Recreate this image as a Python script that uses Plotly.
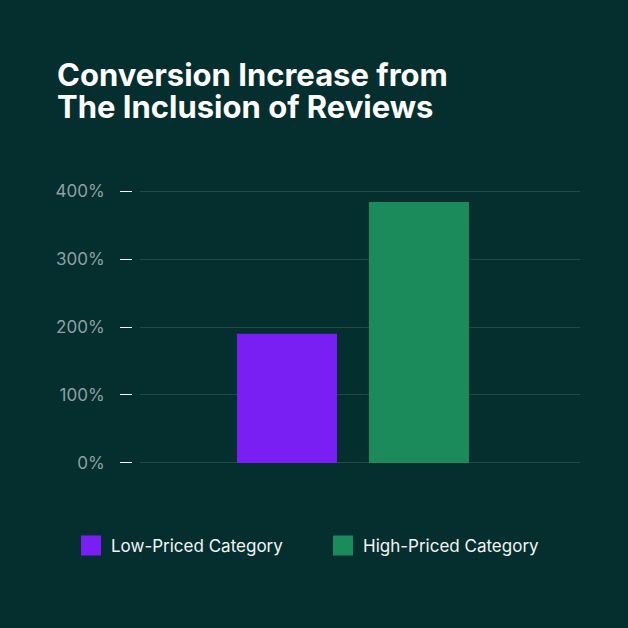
import plotly.graph_objects as go

# ---- data ----
series_names = ["Low-Priced Category", "High-Priced Category"]
series_values = [190, 384]          # percent conversion increase
series_colors = ["#7a1ff3", "#1b8b5c"]
category = [""]                      # single group
y_ticks = [0, 100, 200, 300, 400]
y_tick_labels = ["0%", "100%", "200%", "300%", "400%"]
title_lines = ["Conversion Increase from", "The Inclusion of Reviews"]

BG = "#052e2f"
GRID = "#1f4a48"
TICKLBL = "#8fa1a1"
FONT = "Inter"

fig = go.Figure()
for name, val, col in zip(series_names, series_values, series_colors):
    fig.add_trace(go.Bar(
        x=category, y=[val], name=name, marker=dict(color=col, line=dict(width=0)),
        showlegend=False, hoverinfo="skip",
    ))
# legend proxies (bigger square symbols)
for name, col in zip(series_names, series_colors):
    fig.add_trace(go.Scatter(
        x=[None], y=[None], name=name, mode="markers",
        marker=dict(symbol="square", size=16, color=col, line=dict(color=col, width=4)),
        hoverinfo="skip",
    ))

W = 628
plot_l, plot_r = 40, 580
plot_t, plot_b = 189, 465
xdom0 = (140 - plot_l) / (plot_r - plot_l)
ypos = (132 - plot_l) / (plot_r - plot_l)

ann = []
for i, line in enumerate(title_lines):
    ann.append(dict(
        text="<b>" + line + "</b>", xref="paper", yref="paper", showarrow=False,
        x=(55 - plot_l) / (plot_r - plot_l), xanchor="left",
        y=1 + (plot_t - (75 + 31 * i)) / (plot_b - plot_t), yanchor="middle",
        font=dict(size=31, color="#ffffff", family=FONT),
    ))

fig.update_layout(
    width=W, height=W,
    paper_bgcolor=BG, plot_bgcolor=BG,
    margin=dict(l=plot_l, r=W - plot_r, t=plot_t, b=W - plot_b),
    barmode="group", bargap=0.4, bargroupgap=0.242,
    font=dict(family=FONT, color="#ffffff"),
    showlegend=True,
    legend=dict(
        orientation="h", xref="container", yref="container",
        x=71 / W, y=1 - 546 / W, xanchor="left", yanchor="middle",
        font=dict(size=17, color="#f2f6f5", family=FONT),
        bgcolor="rgba(0,0,0,0)", itemsizing="trace",
        entrywidth=207, entrywidthmode="pixels",
    ),
    xaxis=dict(
        domain=[xdom0, 1], range=[-0.484, 0.516], showticklabels=False,
        showgrid=False, zeroline=False, showline=False, ticks="", fixedrange=True,
    ),
    yaxis=dict(
        anchor="free", position=ypos, range=[-3, 403],
        tickvals=y_ticks, ticktext=y_tick_labels,
        ticks="outside", ticklen=12, tickwidth=1.3, tickcolor="#ffffff",
        ticklabelstandoff=12,
        tickfont=dict(size=17, color=TICKLBL, family=FONT),
        showgrid=True, gridcolor=GRID, gridwidth=1,
        zeroline=True, zerolinecolor=GRID, zerolinewidth=1,
        showline=False, fixedrange=True,
    ),
    annotations=ann,
)

fig.write_html("out.html", config={"displayModeBar": False},
               post_script="document.body.style.margin='0';")
